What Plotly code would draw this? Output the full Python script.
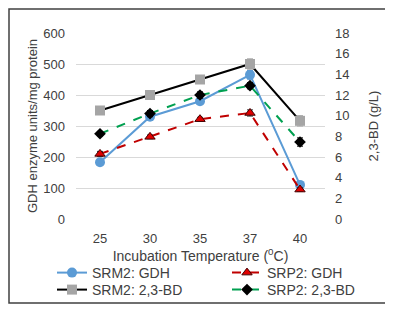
import plotly.graph_objects as go

temps = ["25", "30", "35", "37", "40"]
srm2_gdh = [183, 330, 380, 465, 110]
srp2_gdh = [210, 265, 322, 342, 95]
srm2_bd = [10.5, 12.0, 13.5, 15.0, 9.5]
srp2_bd = [8.25, 10.2, 12.0, 12.9, 7.45]
srm2_gdh_err = [6, 8, 8, 14, 6]
srp2_gdh_err = [8, 6, 6, 10, 6]
srm2_bd_err = [0.2, 0.3, 0.3, 0.5, 0.5]
srp2_bd_err = [0.2, 0.3, 0.3, 0.3, 0.4]

font = "Liberation Sans, Arial, sans-serif"
txt = "#404040"
fs = 13
fig = go.Figure()

fig.add_trace(go.Scatter(
    x=temps, y=srm2_gdh, name="SRM2: GDH", mode="lines+markers",
    line=dict(color="#5B9BD5", width=2),
    marker=dict(symbol="circle", size=10, color="#5B9BD5"),
    error_y=dict(type="data", array=srm2_gdh_err, color="#5B9BD5", thickness=1, width=3),
    yaxis="y", legend="legend"))
fig.add_trace(go.Scatter(
    x=temps, y=srp2_gdh, name="SRP2: GDH", mode="lines+markers",
    line=dict(color="#C00000", width=2, dash="dash"),
    marker=dict(symbol="triangle-up", size=9, color="#E00000", line=dict(color="#400000", width=1)),
    error_y=dict(type="data", array=srp2_gdh_err, color="#333333", thickness=1, width=3),
    yaxis="y", legend="legend2"))
fig.add_trace(go.Scatter(
    x=temps, y=srm2_bd, name="SRM2: 2,3-BD", mode="lines+markers",
    line=dict(color="#000000", width=2),
    marker=dict(symbol="square", size=10, color="#A5A5A5"),
    error_y=dict(type="data", array=srm2_bd_err, color="#A5A5A5", thickness=1, width=3),
    yaxis="y2", legend="legend3"))
fig.add_trace(go.Scatter(
    x=temps, y=srp2_bd, name="SRP2: 2,3-BD", mode="lines+markers",
    line=dict(color="#00A050", width=2, dash="dash"),
    marker=dict(symbol="diamond", size=9, color="#000000"),
    error_y=dict(type="data", array=srp2_bd_err, color="#000000", thickness=1, width=3),
    yaxis="y2", legend="legend4"))

# page body has an 8px margin; the figure is sized to the visible window
W, H = 385, 302
l, r, t, b = 68, 68, 25, 91
pw, ph = W - l - r, H - t - b


def px_x(v):
    return (v - l) / pw


def px_y(v):
    return (H - b - v) / ph


leg_common = dict(orientation="v", xanchor="left", yanchor="middle",
                  font=dict(size=14, color=txt, family=font), bgcolor="rgba(0,0,0,0)",
                  itemwidth=30, tracegroupgap=0)

row1, row2 = 265, 282
col1, col2 = 44, 219

fig.update_layout(
    width=W, height=H,
    margin=dict(l=l, r=r, t=t, b=b, pad=0, autoexpand=False),
    paper_bgcolor="white", plot_bgcolor="white",
    font=dict(family=font, size=fs, color=txt),
    xaxis=dict(type="category", range=[-0.48, 4.5], showgrid=False, showline=False,
               ticks="", zeroline=False, ticklabelstandoff=10,
               title=dict(text="Incubation Temperature (<sup>0</sup>C)", standoff=5,
                          font=dict(size=14, color=txt)),
               tickfont=dict(size=fs, color=txt)),
    yaxis=dict(range=[0, 600], dtick=100, showgrid=True, gridcolor="#D9D9D9", gridwidth=1,
               zeroline=False, showline=False, ticks="", ticklabelstandoff=10,
               title=dict(text="GDH enzyme units/mg protein", standoff=2,
                          font=dict(size=fs, color=txt)),
               tickfont=dict(size=fs, color=txt)),
    yaxis2=dict(range=[0, 18], dtick=2, overlaying="y", side="right", showgrid=False,
                zeroline=False, showline=False, ticks="", ticklabelstandoff=9,
                title=dict(text="2,3-BD (g/L)", standoff=20,
                           font=dict(size=fs, color=txt)),
                tickfont=dict(size=fs, color=txt)),
    legend=dict(x=px_x(col1), y=px_y(row1), **leg_common),
    legend2=dict(x=px_x(col2), y=px_y(row1), **leg_common),
    legend3=dict(x=px_x(col1), y=px_y(row2), **leg_common),
    legend4=dict(x=px_x(col2), y=px_y(row2), **leg_common),
    showlegend=True,
)

fig.add_shape(type="rect", xref="paper", yref="paper",
              x0=px_x(1), x1=px_x(380),
              y0=px_y(295), y1=px_y(1),
              line=dict(color="#404040", width=1.5), fillcolor="rgba(0,0,0,0)")

fig.write_html("out.html")
